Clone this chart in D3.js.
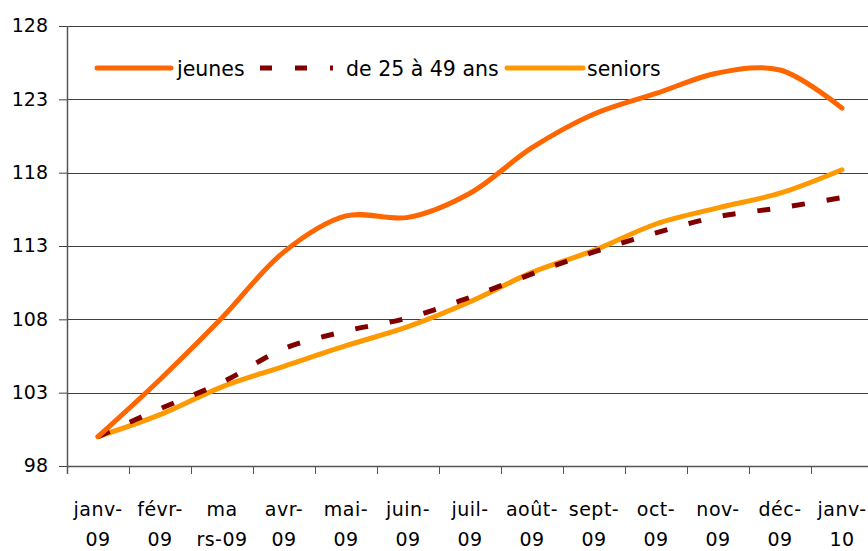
<!DOCTYPE html>
<html>
<head>
<meta charset="utf-8">
<script src="https://cdn.jsdelivr.net/npm/d3@7"></script>
<style>
	body { margin: 0; background: #fff; }
	text { font-family: "DejaVu Sans", Verdana, sans-serif; fill: #000; }
</style>
</head>
<body>
<div id="container"></div>
<script>
const width = 868;
const height = 551;

// months, two lines per label as in the original
const months = ["janv-09", "févr-09", "mars-09", "avr-09", "mai-09", "juin-09", "juil-09",
	"août-09", "sept-09", "oct-09", "nov-09", "déc-09", "janv-10"];
const monthLabels = [["janv-", "09"], ["févr-", "09"], ["ma", "rs-09"], ["avr-", "09"], ["mai-", "09"],
	["juin-", "09"], ["juil-", "09"], ["août-", "09"], ["sept-", "09"], ["oct-", "09"],
	["nov-", "09"], ["déc-", "09"], ["janv-", "10"]];

// index values (base 100 = janv-09)
const jeunes = [100.0, 103.9, 108.1, 112.6, 115.05, 114.95, 116.6, 119.7, 122.0, 123.4, 124.8, 125.0, 122.4];
const moyens = [100.0, 101.9, 103.7, 106.0, 107.2, 108.1, 109.5, 111.1, 112.6, 113.9, 115.0, 115.6, 116.3];
const seniors = [100.0, 101.5, 103.4, 104.8, 106.2, 107.5, 109.2, 111.2, 112.7, 114.5, 115.6, 116.6, 118.2];

const yTicks = [98, 103, 108, 113, 118, 123, 128];

const series = [
	{name: "jeunes", values: jeunes, color: "#ff6600", dash: null},
	{name: "de 25 à 49 ans", values: moyens, color: "#800000", dash: "13,22"},
	{name: "seniors", values: seniors, color: "#ff9900", dash: null}
];

const plotLeft = 67, plotTop = 26, plotBottom = 466;

const x = d3.scaleBand()
	.domain(months)
	.range([plotLeft, plotLeft + 62 * months.length])
	.padding(0);

const y = d3.scaleLinear()
	.domain([98, 128])
	.range([plotBottom, plotTop]);

let svg = d3.select("#container")
	.append("svg")
	.attr("width", width)
	.attr("height", height);

// y labels and tick marks
let yAxis = svg.append("g")
	.attr("transform", "translate(" + plotLeft + ",0)")
	.call(d3.axisLeft(y).tickValues(yTicks).tickSize(8).tickSizeOuter(0).tickPadding(11).tickFormat(d3.format("d")));
yAxis.select(".domain").remove();
yAxis.selectAll(".tick line").attr("stroke", "#404040");
yAxis.selectAll(".tick text")
	.style("font-size", "19px")
	.style("font-family", "'DejaVu Sans', Verdana, sans-serif")
	.attr("dy", "0.3em");

// horizontal gridlines
svg.append("g")
	.selectAll("line")
	.data(yTicks)
	.enter()
	.append("line")
	.attr("x1", plotLeft)
	.attr("x2", width)
	.attr("y1", d => Math.round(y(d)) + 0.5)
	.attr("y2", d => Math.round(y(d)) + 0.5)
	.attr("stroke", d => d === 98 ? "#555" : "#404040")
	.attr("stroke-width", d => d === 98 ? 1.5 : 1);

// y axis line
svg.append("line")
	.attr("x1", plotLeft + 0.5).attr("x2", plotLeft + 0.5)
	.attr("y1", y(128)).attr("y2", plotBottom + 8)
	.attr("stroke", "#555")
	.attr("stroke-width", 1.5);

// x ticks at band boundaries
svg.append("g")
	.selectAll("line")
	.data(months.slice(1))
	.enter()
	.append("line")
	.attr("x1", d => Math.round(x(d)) + 0.5)
	.attr("x2", d => Math.round(x(d)) + 0.5)
	.attr("y1", plotBottom)
	.attr("y2", plotBottom + 8)
	.attr("stroke", "#555");

// x labels
let xl = svg.append("g")
	.selectAll("text")
	.data(months)
	.enter()
	.append("text")
	.attr("text-anchor", "middle")
	.style("font-size", "19px")
	.style("letter-spacing", "0.5px");
xl.append("tspan")
	.attr("x", d => x(d) + x.bandwidth() / 2)
	.attr("y", 516)
	.text((d, i) => monthLabels[i][0]);
xl.append("tspan")
	.attr("x", d => x(d) + x.bandwidth() / 2)
	.attr("y", 546)
	.text((d, i) => monthLabels[i][1]);

// lines
const line = d3.line()
	.x((d, i) => x(months[i]) + x.bandwidth() / 2)
	.y(d => y(d))
	.curve(d3.curveCatmullRom.alpha(0.5));

svg.append("g")
	.selectAll("path")
	.data(series.slice().reverse())
	.enter()
	.append("path")
	.attr("d", d => line(d.values))
	.attr("fill", "none")
	.attr("stroke", d => d.color)
	.attr("stroke-width", 5)
	.attr("stroke-linecap", d => d.dash ? "butt" : "round")
	.attr("stroke-linejoin", "round")
	.attr("stroke-dasharray", d => d.dash);

// legend
const legendPos = [{x1: 97, x2: 171, tx: 177}, {x1: 260, x2: 333, tx: 346}, {x1: 507, x2: 583, tx: 587}];
let legend = svg.append("g")
	.selectAll("g")
	.data(series)
	.enter()
	.append("g");
legend.append("line")
	.attr("x1", (d, i) => legendPos[i].x1)
	.attr("x2", (d, i) => legendPos[i].x2)
	.attr("y1", 68).attr("y2", 68)
	.attr("stroke", d => d.color)
	.attr("stroke-width", 5)
	.attr("stroke-linecap", d => d.dash ? "butt" : "round")
	.attr("stroke-dasharray", d => d.dash ? "12,23" : null);
legend.append("text")
	.attr("x", (d, i) => legendPos[i].tx)
	.attr("y", 76)
	.style("font-size", "20.5px")
	.text(d => d.name);
</script>
</body>
</html>
